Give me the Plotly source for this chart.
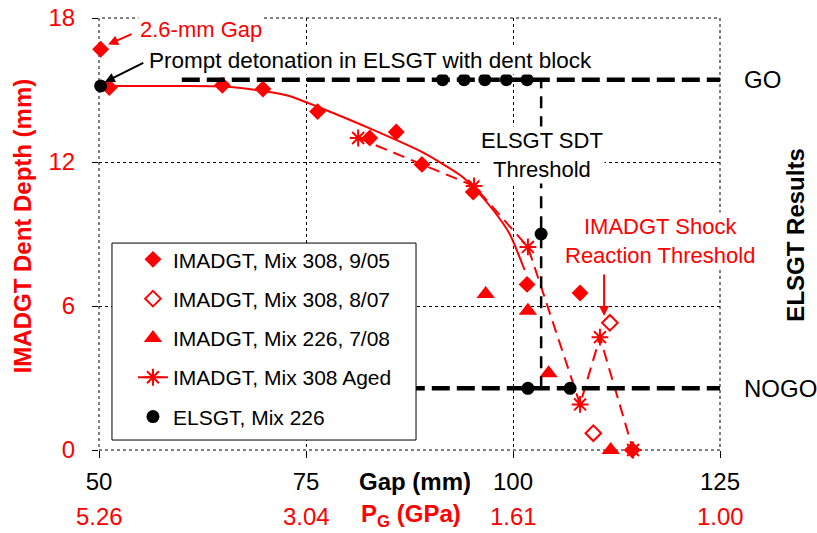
import plotly.graph_objects as go

# ---------------- data ----------------
mix308_905_gap = [50.2, 51.25, 64.9, 69.8, 76.4, 82.7, 85.9, 89.0, 95.2, 101.7, 108.1, 114.4]
mix308_905_dent = [16.7, 15.1, 15.2, 15.04, 14.1, 13.0, 13.25, 11.9, 10.75, 6.9, 6.54, 0.0]
mix308_807_gap = [111.7, 109.7]
mix308_807_dent = [5.3, 0.7]
mix226_708_gap = [96.7, 101.8, 104.3, 111.8]
mix226_708_dent = [6.5, 5.8, 3.2, 0.0]
aged_gap = [81.3, 95.3, 101.8, 108.1, 110.5, 114.5]
aged_dent = [13.0, 11.0, 8.46, 1.9, 4.7, 0.0]
fit_gap = [51.1, 60, 65, 70, 73, 76.4, 82.7, 89.1, 93.6, 95.2, 97.6, 99.6, 101.4]
fit_dent = [15.17, 15.17, 15.15, 14.95, 14.75, 14.3, 13.4, 12.4, 11.46, 10.96, 10.0, 9.0, 7.5]
elsgt_gap = [50.2, 91.5, 94.1, 96.6, 99.2, 101.7, 103.4, 101.8, 106.9]
elsgt_result = [0.98, 1, 1, 1, 1, 1, 0.5, 0, 0]
go_line_gap = [60, 125]
go_line_val = [1, 1]
nogo_line_val = [0, 0]
threshold_gap = [103.4, 103.4]
threshold_val = [0, 1]
x_ticks = [50, 75, 100, 125]
pg_labels = ["5.26", "3.04", "1.61", "1.00"]
dent_ticks = [0, 6, 12, 18]
result_ticks = [0, 1]
result_labels = ["NOGO", "GO"]

FONT = "Liberation Sans, Arial, sans-serif"
RED = "#ff0000"

fig = go.Figure()

# GO / NOGO lines and threshold (secondary axis)
fig.add_trace(go.Scatter(x=go_line_gap, y=go_line_val, yaxis="y2", mode="lines",
                         line=dict(color="black", width=4.5, dash="18px,7px"),
                         showlegend=False, hoverinfo="skip"))
fig.add_trace(go.Scatter(x=go_line_gap, y=nogo_line_val, yaxis="y2", mode="lines",
                         line=dict(color="black", width=4.5, dash="18px,7px"),
                         showlegend=False, hoverinfo="skip"))
fig.add_trace(go.Scatter(x=threshold_gap, y=threshold_val, yaxis="y2", mode="lines",
                         line=dict(color="black", width=2.5, dash="12px,8px"),
                         showlegend=False, hoverinfo="skip"))

# Fit line for Mix 308 9/05
fig.add_trace(go.Scatter(x=fit_gap, y=fit_dent, mode="lines",
                         line=dict(color=RED, width=2, shape="spline", smoothing=0.6),
                         showlegend=False, hoverinfo="skip"))

fig.add_trace(go.Scatter(x=mix308_905_gap, y=mix308_905_dent, mode="markers",
                         name="IMADGT, Mix 308, 9/05", legendgroup="a",
                         marker=dict(symbol="diamond", size=13, color=RED),
                         cliponaxis=False))
fig.add_trace(go.Scatter(x=mix308_807_gap, y=mix308_807_dent, mode="markers",
                         name="IMADGT, Mix 308, 8/07", legendgroup="b",
                         marker=dict(symbol="diamond-open", size=12, color=RED,
                                     line=dict(width=2, color=RED)),
                         cliponaxis=False))
fig.add_trace(go.Scatter(x=mix226_708_gap, y=mix226_708_dent, mode="markers",
                         name="IMADGT, Mix 226, 7/08", legendgroup="c",
                         marker=dict(symbol="triangle-up", size=16, color=RED),
                         cliponaxis=False))
fig.add_trace(go.Scatter(x=aged_gap, y=aged_dent, mode="lines+markers",
                         name="IMADGT, Mix 308 Aged", legendgroup="d",
                         line=dict(color=RED, width=2, dash="12px,7px"),
                         marker=dict(symbol="asterisk-open", size=14, color=RED,
                                     line=dict(width=2, color=RED)),
                         cliponaxis=False))
fig.add_trace(go.Scatter(x=elsgt_gap, y=elsgt_result, yaxis="y2", mode="markers",
                         name="ELSGT, Mix 226", legendgroup="e",
                         marker=dict(symbol="circle", size=13, color="black"),
                         cliponaxis=False))

annotations = []
# secondary x labels (pressure)
for xv, lab in zip(x_ticks, pg_labels):
    annotations.append(dict(x=xv, y=-0.155, xref="x", yref="paper", text=lab,
                            showarrow=False, font=dict(size=24, color=RED, family=FONT),
                            xanchor="center", yanchor="middle"))
annotations += [
    dict(x=88.2, y=-0.072, xref="x", yref="paper", text="<b>Gap (mm)</b>",
         showarrow=False, xanchor="center", yanchor="middle",
         font=dict(size=24, color="black", family=FONT)),
    dict(x=87.7, y=-0.152, xref="x", yref="paper", text="<b>P<sub>G</sub> (GPa)</b>",
         showarrow=False, xanchor="center", yanchor="middle",
         font=dict(size=24, color=RED, family=FONT)),
    dict(x=-0.124, y=0.52, xref="paper", yref="paper", text="<b>IMADGT Dent Depth (mm)</b>",
         textangle=-90, showarrow=False, xanchor="center", yanchor="middle",
         font=dict(size=24, color=RED, family=FONT)),
    dict(x=1.122, y=0.498, xref="paper", yref="paper", text="<b>ELSGT Results</b>",
         textangle=-90, showarrow=False, xanchor="center", yanchor="middle",
         font=dict(size=24, color="black", family=FONT)),
    # text labels
    dict(x=62.3, y=17.54, xref="x", yref="y", text="2.6-mm Gap", showarrow=False,
         bgcolor="white", font=dict(size=22, color=RED, family=FONT)),
    dict(x=82.8, y=16.25, xref="x", yref="y",
         text="Prompt detonation in ELSGT with dent block", showarrow=False,
         bgcolor="white", font=dict(size=22.5, color="black", family=FONT)),
    dict(x=103.5, y=12.29, xref="x", yref="y", text="ELSGT SDT<br>Threshold",
         showarrow=False, bgcolor="white", font=dict(size=22, color="black", family=FONT)),
    dict(x=117.75, y=8.7, xref="x", yref="y", text="IMADGT Shock<br>Reaction Threshold",
         showarrow=False, bgcolor="white", font=dict(size=22, color=RED, family=FONT)),
    # arrows
    dict(x=51.1, y=16.9, xref="x", yref="y", text="", showarrow=True, ax=25, ay=-11,
         arrowhead=2, arrowsize=1, arrowwidth=2, arrowcolor=RED, standoff=0),
    dict(x=50.7, y=15.33, xref="x", yref="y", text="", showarrow=True, ax=40, ay=-20,
         arrowhead=2, arrowsize=1, arrowwidth=2, arrowcolor="black", standoff=0),
    dict(x=111.0, y=5.58, xref="x", yref="y", text="", showarrow=True, ax=0, ay=-43,
         arrowhead=2, arrowsize=1, arrowwidth=2, arrowcolor=RED, standoff=0),
]

shapes = [
    # plot frame (dotted)
    dict(type="rect", xref="paper", yref="paper", x0=0, x1=1, y0=0, y1=1,
         line=dict(color="black", width=1, dash="dot"), layer="below"),
    # legend box
    dict(type="rect", xref="paper", yref="paper", x0=0.0209, x1=0.5105, y0=0.0231, y1=0.479,
         line=dict(color="black", width=1), fillcolor="white", layer="above"),
]

fig.update_layout(
    width=817, height=533,
    margin=dict(l=99, r=97, t=18, b=83, autoexpand=False),
    paper_bgcolor="white", plot_bgcolor="white",
    font=dict(family=FONT, size=22, color="black"),
    xaxis=dict(range=[50, 125], tickvals=x_ticks, showgrid=True, gridcolor="black",
               griddash="dot", gridwidth=1, zeroline=False, showline=False,
               ticks="outside", ticklen=7, tickcolor="black", ticklabelstandoff=3,
               automargin=False,
               tickfont=dict(size=24, color="black", family=FONT)),
    yaxis=dict(range=[0, 18], tickvals=dent_ticks, showgrid=True, gridcolor="black",
               griddash="dot", gridwidth=1, zeroline=False, showline=False,
               ticks="outside", ticklen=6, tickcolor="black", ticklabelstandoff=12,
               automargin=False,
               tickfont=dict(size=24, color=RED, family=FONT)),
    yaxis2=dict(range=[-0.2, 1.2], overlaying="y", side="right", tickvals=result_ticks,
                ticktext=result_labels, showgrid=False, zeroline=False, showline=False,
                ticks="", ticklabelstandoff=23, automargin=False,
                tickfont=dict(size=24, color="black", family=FONT)),
    legend=dict(x=0.0547, y=0.488, xanchor="left", yanchor="top",
                bgcolor="rgba(0,0,0,0)", borderwidth=0, traceorder="grouped",
                tracegroupgap=9, font=dict(size=21, color="black", family=FONT)),
    annotations=annotations,
    shapes=shapes,
)

fig.write_html("out.html")
